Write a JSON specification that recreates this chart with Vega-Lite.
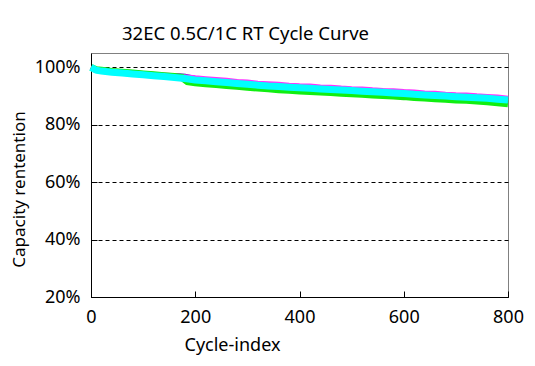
{
  "$schema": "https://vega.github.io/schema/vega-lite/v6.json",
  "autosize": "none",
  "width": 417,
  "height": 244,
  "padding": {"left": 91, "top": 53, "right": 27, "bottom": 69},
  "background": "white",
  "title": {
    "text": "32EC 0.5C/1C RT Cycle Curve",
    "anchor": "start",
    "frame": "group",
    "dx": 31,
    "offset": 10,
    "font": "Noto Sans",
    "fontSize": 18.5,
    "fontWeight": "normal",
    "color": "black"
  },
  "config": {
    "view": {"stroke": "#808080", "strokeWidth": 1},
    "axis": {
      "labelFont": "Noto Sans",
      "labelFontSize": 18,
      "labelColor": "black",
      "titleFont": "Noto Sans",
      "titleFontSize": 18,
      "titleFontWeight": "normal",
      "titleColor": "black",
      "domainColor": "black",
      "tickColor": "black"
    }
  },
  "datasets": {
    "cyc": [
      {"s":"B","c":0,"v":1.000},{"s":"B","c":10,"v":0.991},{"s":"B","c":20,"v":0.989},{"s":"B","c":40,"v":0.985},{"s":"B","c":60,"v":0.982},{"s":"B","c":80,"v":0.979},{"s":"B","c":100,"v":0.976},{"s":"B","c":120,"v":0.973},{"s":"B","c":140,"v":0.971},{"s":"B","c":160,"v":0.972},{"s":"B","c":180,"v":0.969},{"s":"B","c":200,"v":0.961},{"s":"B","c":220,"v":0.957},{"s":"B","c":240,"v":0.954},{"s":"B","c":260,"v":0.951},{"s":"B","c":280,"v":0.948},{"s":"B","c":300,"v":0.945},{"s":"B","c":320,"v":0.942},{"s":"B","c":340,"v":0.939},{"s":"B","c":360,"v":0.937},{"s":"B","c":380,"v":0.935},{"s":"B","c":400,"v":0.933},{"s":"B","c":420,"v":0.931},{"s":"B","c":440,"v":0.929},{"s":"B","c":460,"v":0.927},{"s":"B","c":480,"v":0.925},{"s":"B","c":500,"v":0.923},{"s":"B","c":520,"v":0.921},{"s":"B","c":540,"v":0.919},{"s":"B","c":560,"v":0.917},{"s":"B","c":580,"v":0.915},{"s":"B","c":600,"v":0.913},{"s":"B","c":620,"v":0.910},{"s":"B","c":640,"v":0.908},{"s":"B","c":660,"v":0.906},{"s":"B","c":680,"v":0.904},{"s":"B","c":700,"v":0.902},{"s":"B","c":720,"v":0.900},{"s":"B","c":740,"v":0.898},{"s":"B","c":760,"v":0.896},{"s":"B","c":780,"v":0.893},{"s":"B","c":800,"v":0.890},
      {"s":"M","c":0,"v":1.000},{"s":"M","c":10,"v":0.991},{"s":"M","c":20,"v":0.990},{"s":"M","c":40,"v":0.986},{"s":"M","c":60,"v":0.983},{"s":"M","c":80,"v":0.980},{"s":"M","c":100,"v":0.977},{"s":"M","c":120,"v":0.974},{"s":"M","c":140,"v":0.972},{"s":"M","c":160,"v":0.969},{"s":"M","c":180,"v":0.966},{"s":"M","c":200,"v":0.962},{"s":"M","c":220,"v":0.959},{"s":"M","c":240,"v":0.956},{"s":"M","c":260,"v":0.953},{"s":"M","c":280,"v":0.949},{"s":"M","c":300,"v":0.947},{"s":"M","c":320,"v":0.943},{"s":"M","c":340,"v":0.941},{"s":"M","c":360,"v":0.939},{"s":"M","c":380,"v":0.936},{"s":"M","c":400,"v":0.934},{"s":"M","c":420,"v":0.933},{"s":"M","c":440,"v":0.930},{"s":"M","c":460,"v":0.929},{"s":"M","c":480,"v":0.926},{"s":"M","c":500,"v":0.924},{"s":"M","c":520,"v":0.923},{"s":"M","c":540,"v":0.920},{"s":"M","c":560,"v":0.918},{"s":"M","c":580,"v":0.917},{"s":"M","c":600,"v":0.914},{"s":"M","c":620,"v":0.912},{"s":"M","c":640,"v":0.909},{"s":"M","c":660,"v":0.908},{"s":"M","c":680,"v":0.905},{"s":"M","c":700,"v":0.903},{"s":"M","c":720,"v":0.902},{"s":"M","c":740,"v":0.899},{"s":"M","c":760,"v":0.897},{"s":"M","c":780,"v":0.895},{"s":"M","c":800,"v":0.891},
      {"s":"G","c":0,"v":1.000},{"s":"G","c":10,"v":0.992},{"s":"G","c":20,"v":0.990},{"s":"G","c":40,"v":0.986},{"s":"G","c":60,"v":0.983},{"s":"G","c":80,"v":0.980},{"s":"G","c":100,"v":0.977},{"s":"G","c":120,"v":0.974},{"s":"G","c":140,"v":0.971},{"s":"G","c":160,"v":0.968},{"s":"G","c":175,"v":0.964},{"s":"G","c":185,"v":0.950},{"s":"G","c":200,"v":0.946},{"s":"G","c":220,"v":0.943},{"s":"G","c":240,"v":0.940},{"s":"G","c":260,"v":0.937},{"s":"G","c":280,"v":0.934},{"s":"G","c":300,"v":0.931},{"s":"G","c":320,"v":0.928},{"s":"G","c":340,"v":0.925},{"s":"G","c":360,"v":0.922},{"s":"G","c":380,"v":0.920},{"s":"G","c":400,"v":0.918},{"s":"G","c":420,"v":0.916},{"s":"G","c":440,"v":0.914},{"s":"G","c":460,"v":0.912},{"s":"G","c":480,"v":0.910},{"s":"G","c":500,"v":0.908},{"s":"G","c":520,"v":0.906},{"s":"G","c":540,"v":0.904},{"s":"G","c":560,"v":0.902},{"s":"G","c":580,"v":0.900},{"s":"G","c":600,"v":0.898},{"s":"G","c":620,"v":0.895},{"s":"G","c":640,"v":0.893},{"s":"G","c":660,"v":0.891},{"s":"G","c":680,"v":0.889},{"s":"G","c":700,"v":0.886},{"s":"G","c":720,"v":0.885},{"s":"G","c":740,"v":0.883},{"s":"G","c":760,"v":0.880},{"s":"G","c":780,"v":0.877},{"s":"G","c":800,"v":0.873},
      {"s":"C","c":0,"v":1.000},{"s":"C","c":10,"v":0.990},{"s":"C","c":20,"v":0.987},{"s":"C","c":40,"v":0.983},{"s":"C","c":60,"v":0.980},{"s":"C","c":80,"v":0.977},{"s":"C","c":100,"v":0.974},{"s":"C","c":120,"v":0.971},{"s":"C","c":140,"v":0.968},{"s":"C","c":160,"v":0.965},{"s":"C","c":180,"v":0.961},{"s":"C","c":200,"v":0.956},{"s":"C","c":220,"v":0.953},{"s":"C","c":240,"v":0.950},{"s":"C","c":260,"v":0.947},{"s":"C","c":280,"v":0.944},{"s":"C","c":300,"v":0.941},{"s":"C","c":320,"v":0.938},{"s":"C","c":340,"v":0.935},{"s":"C","c":360,"v":0.933},{"s":"C","c":380,"v":0.931},{"s":"C","c":400,"v":0.929},{"s":"C","c":420,"v":0.927},{"s":"C","c":440,"v":0.925},{"s":"C","c":460,"v":0.923},{"s":"C","c":480,"v":0.921},{"s":"C","c":500,"v":0.919},{"s":"C","c":520,"v":0.917},{"s":"C","c":540,"v":0.915},{"s":"C","c":560,"v":0.913},{"s":"C","c":580,"v":0.911},{"s":"C","c":600,"v":0.909},{"s":"C","c":620,"v":0.906},{"s":"C","c":640,"v":0.904},{"s":"C","c":660,"v":0.902},{"s":"C","c":680,"v":0.900},{"s":"C","c":700,"v":0.898},{"s":"C","c":720,"v":0.896},{"s":"C","c":740,"v":0.894},{"s":"C","c":760,"v":0.892},{"s":"C","c":780,"v":0.889},{"s":"C","c":800,"v":0.886}
    ]
  },
  "data": {"name": "cyc"},
  "encoding": {
    "x": {
      "field": "c",
      "type": "quantitative",
      "scale": {"domain": [0, 800], "nice": false, "zero": false},
      "axis": {
        "title": "Cycle-index",
        "values": [0, 200, 400, 600, 800],
        "grid": false,
        "tickSize": -6,
        "labelPadding": 17,
        "titlePadding": 10,
        "titleX": 141,
        "labelFlush": false
      }
    },
    "y": {
      "field": "v",
      "type": "quantitative",
      "scale": {"domain": [0.2, 1.05], "nice": false, "zero": false},
      "axis": {
        "title": "Capacity rentention",
        "titleFontSize": 17,
        "format": ".0%",
        "values": [0.2, 0.4, 0.6, 0.8, 1.0],
        "grid": true,
        "gridColor": "black",
        "gridDash": [4, 3],
        "gridOpacity": 1,
        "gridWidth": 1,
        "tickSize": -6,
        "labelPadding": 17,
        "titlePadding": 6,
        "titleY": 136,
        "titleAnchor": "middle",
        "labelFlush": false
      }
    }
  },
  "layer": [
    {"transform": [{"filter": "datum.s == 'B'"}], "mark": {"type": "line", "color": "#1a1a9a", "strokeWidth": 5}},
    {"transform": [{"filter": "datum.s == 'M'"}], "mark": {"type": "line", "color": "#ff33ff", "strokeWidth": 6}},
    {"transform": [{"filter": "datum.s == 'G'"}], "mark": {"type": "line", "color": "#11ee11", "strokeWidth": 7}},
    {"transform": [{"filter": "datum.s == 'C'"}], "mark": {"type": "line", "color": "#00ffff", "strokeWidth": 7}}
  ]
}
